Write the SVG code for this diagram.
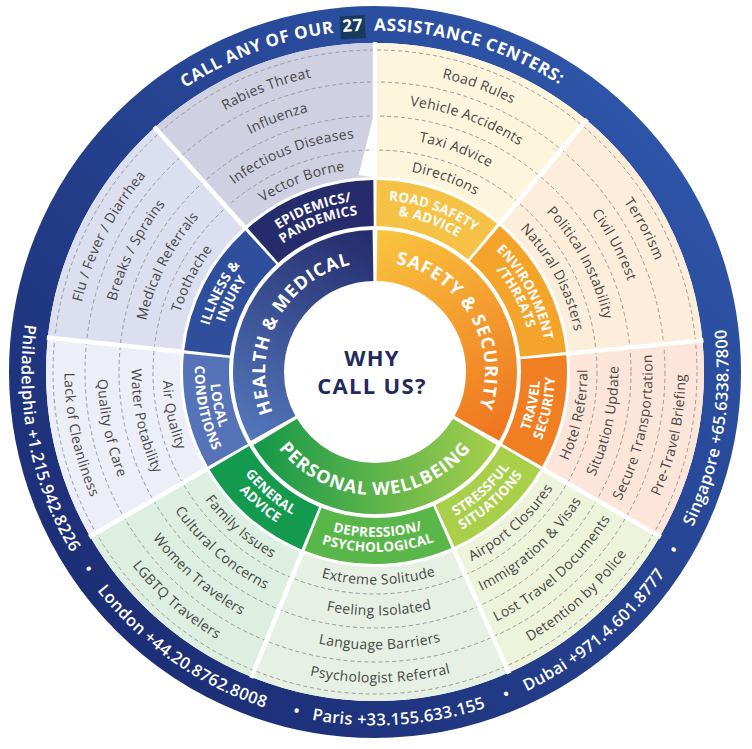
<svg xmlns="http://www.w3.org/2000/svg" width="752" height="749" viewBox="0 0 752 749">
<style>
text{font-family:"Open Sans","Liberation Sans",sans-serif}
.item{font-size:14px;fill:#474747;text-anchor:middle;letter-spacing:0.3px}
.sub{font-size:13.5px;font-weight:700;fill:#ffffff;text-anchor:middle;letter-spacing:0.2px}
.main{font-size:18px;font-weight:700;fill:#ffffff;text-anchor:middle;letter-spacing:1px}
.title{font-size:17px;font-weight:700;fill:#ffffff;text-anchor:middle;letter-spacing:0.6px}
.phone{font-size:16.5px;font-weight:600;fill:#ffffff;text-anchor:middle;letter-spacing:0.3px}
.center{font-size:22px;font-weight:700;fill:#1f2a5e;text-anchor:middle;letter-spacing:1.3px}
.mainSeg{fill:none;stroke-width:51}
.subSeg{fill:none;stroke-width:46}
.itemSeg{fill:none;stroke-width:134}
.dash{fill:none;stroke:#9b9b9b;stroke-width:1;stroke-dasharray:4 3}
.sep{stroke:#ffffff;stroke-width:4.5}
</style>
<defs>
<linearGradient id="gRing" gradientUnits="userSpaceOnUse" x1="-300" y1="300" x2="300" y2="-300">
<stop offset="0" stop-color="#1b2b72"/><stop offset="1" stop-color="#2f57ab"/>
</linearGradient>
<linearGradient id="gHealth" gradientUnits="userSpaceOnUse" x1="0" y1="-140" x2="-120" y2="70">
<stop offset="0" stop-color="#242b6b"/><stop offset="1" stop-color="#5377bb"/>
</linearGradient>
<linearGradient id="gSafety" gradientUnits="userSpaceOnUse" x1="0" y1="-140" x2="120" y2="70">
<stop offset="0" stop-color="#f9c53e"/><stop offset="1" stop-color="#ef7420"/>
</linearGradient>
<linearGradient id="gPersonal" gradientUnits="userSpaceOnUse" x1="-125" y1="0" x2="125" y2="0">
<stop offset="0" stop-color="#119649"/><stop offset="1" stop-color="#a8d04c"/>
</linearGradient>
<path id="cw341" d="M-340.2,-29.77 A341.5 341.5 0 0 1 340.2,-29.77"/>
<path id="cw110" d="M-109.58,-9.59 A110 110 0 0 1 109.58,-9.59"/>
<path id="cw172" d="M-171.35,-14.99 A172 172 0 0 1 171.35,-14.99"/>
<path id="cw158" d="M-157.4,-13.77 A158 158 0 0 1 157.4,-13.77"/>
<path id="cw203" d="M-202.73,-17.74 A203.5 203.5 0 0 1 202.73,-17.74"/>
<path id="cw234" d="M-233.61,-20.44 A234.5 234.5 0 0 1 233.61,-20.44"/>
<path id="cw268" d="M-267.48,-23.4 A268.5 268.5 0 0 1 267.48,-23.4"/>
<path id="cw301" d="M-300.35,-26.28 A301.5 301.5 0 0 1 300.35,-26.28"/>
<path id="ccw353" d="M-352.15,30.81 A353.5 353.5 0 0 0 352.15,30.81"/>
<path id="ccw123" d="M-122.53,10.72 A123 123 0 0 0 122.53,10.72"/>
<path id="ccw165" d="M-164.37,14.38 A165 165 0 0 0 164.37,14.38"/>
<path id="ccw180" d="M-179.31,15.69 A180 180 0 0 0 179.31,15.69"/>
<path id="ccw212" d="M-211.69,18.52 A212.5 212.5 0 0 0 211.69,18.52"/>
<path id="ccw243" d="M-242.57,21.22 A243.5 243.5 0 0 0 242.57,21.22"/>
<path id="ccw277" d="M-276.44,24.19 A277.5 277.5 0 0 0 276.44,24.19"/>
<path id="ccw310" d="M-309.32,27.06 A310.5 310.5 0 0 0 309.32,27.06"/>
</defs>
<rect width="752" height="749" fill="#ffffff"/>
<g transform="translate(375,372)">
<g id="outer-ring">
<circle r="347.5" fill="none" stroke="url(#gRing)" stroke-width="37"/>
<g transform="rotate(356.3)"><rect x="-12.5" y="-357" width="25" height="23" fill="#173b5e"/></g>
<text class="title" transform="rotate(339.7)"><textPath href="#cw341" startOffset="50%">CALL ANY OF OUR</textPath></text>
<text class="title" transform="rotate(356.3)"><textPath href="#cw341" startOffset="50%">27</textPath></text>
<text class="title" transform="rotate(16.3)"><textPath href="#cw341" startOffset="50%">ASSISTANCE CENTERS:</textPath></text>
<text class="phone" transform="rotate(78.5)"><textPath href="#ccw353" startOffset="50%">Philadelphia +1.215.942.8226</textPath></text>
<text class="phone" transform="rotate(55.5)"><textPath href="#ccw353" startOffset="50%">•</textPath></text>
<text class="phone" transform="rotate(35)"><textPath href="#ccw353" startOffset="50%">London +44.20.8762.8008</textPath></text>
<text class="phone" transform="rotate(13)"><textPath href="#ccw353" startOffset="50%">•</textPath></text>
<text class="phone" transform="rotate(-4)"><textPath href="#ccw353" startOffset="50%">Paris +33.155.633.155</textPath></text>
<text class="phone" transform="rotate(-22.2)"><textPath href="#ccw353" startOffset="50%">•</textPath></text>
<text class="phone" transform="rotate(-40.3)"><textPath href="#ccw353" startOffset="50%">Dubai +971.4.601.8777</textPath></text>
<text class="phone" transform="rotate(-59.3)"><textPath href="#ccw353" startOffset="50%">•</textPath></text>
<text class="phone" transform="rotate(-80.5)"><textPath href="#ccw353" startOffset="50%">Singapore +65.6338.7800</textPath></text>
</g>

<g id="items-epidemics">
<circle class="itemSeg" r="262" pathLength="360" stroke="#cfd0e2" stroke-dasharray="42 318" stroke-dashoffset="-228"/>
</g>
<g id="items-illness">
<circle class="itemSeg" r="262" pathLength="360" stroke="#dcdff0" stroke-dasharray="42 318" stroke-dashoffset="-186"/>
</g>
<g id="items-local">
<circle class="itemSeg" r="262" pathLength="360" stroke="#edeff8" stroke-dasharray="36 324" stroke-dashoffset="-150"/>
</g>
<g id="items-road">
<circle class="itemSeg" r="262" pathLength="360" stroke="#fdf6dc" stroke-dasharray="40 320" stroke-dashoffset="-270"/>
</g>
<g id="items-environment">
<circle class="itemSeg" r="262" pathLength="360" stroke="#fdeedb" stroke-dasharray="44.5 315.5" stroke-dashoffset="-310"/>
</g>
<g id="items-travel">
<circle class="itemSeg" r="262" pathLength="360" stroke="#fde6d9" stroke-dasharray="35.5 324.5" stroke-dashoffset="-354.5"/>
</g>
<g id="items-stressful">
<circle class="itemSeg" r="262" pathLength="360" stroke="#eef4dc" stroke-dasharray="36 324" stroke-dashoffset="-30"/>
</g>
<g id="items-depression">
<circle class="itemSeg" r="262" pathLength="360" stroke="#e6f1e3" stroke-dasharray="46 314" stroke-dashoffset="-66"/>
</g>
<g id="items-general">
<circle class="itemSeg" r="262" pathLength="360" stroke="#ddefe0" stroke-dasharray="38 322" stroke-dashoffset="-112"/>
</g>

<g id="item-dividers">
<circle class="dash" r="222"/>
<circle class="dash" r="256"/>
<circle class="dash" r="290"/>
<circle class="dash" r="322"/>
</g>

<g id="separators">
<line class="sep" x1="88" y1="0" x2="330" y2="0" transform="rotate(270)"/>
<line class="sep" x1="88" y1="0" x2="330" y2="0" transform="rotate(30)"/>
<line class="sep" x1="88" y1="0" x2="330" y2="0" transform="rotate(150)"/>
<line class="sep" x1="144" y1="0" x2="330" y2="0" transform="rotate(186)"/>
<line class="sep" x1="144" y1="0" x2="330" y2="0" transform="rotate(228)"/>
<line class="sep" x1="144" y1="0" x2="330" y2="0" transform="rotate(310)"/>
<line class="sep" x1="144" y1="0" x2="330" y2="0" transform="rotate(354.5)"/>
<line class="sep" x1="144" y1="0" x2="330" y2="0" transform="rotate(66)"/>
<line class="sep" x1="144" y1="0" x2="330" y2="0" transform="rotate(112)"/>
</g>

<g id="main-health">
<circle class="mainSeg" r="116.5" pathLength="360" stroke="url(#gHealth)" stroke-dasharray="118 242" stroke-dashoffset="-151"/>
<text class="main" transform="rotate(298)"><textPath href="#cw110" startOffset="50%">HEALTH &amp; MEDICAL</textPath></text>
</g>
<g id="main-safety">
<circle class="mainSeg" r="116.5" pathLength="360" stroke="url(#gSafety)" stroke-dasharray="118 242" stroke-dashoffset="-271"/>
<text class="main" transform="rotate(60)"><textPath href="#cw110" startOffset="50%">SAFETY &amp; SECURITY</textPath></text>
</g>
<g id="main-personal">
<circle class="mainSeg" r="116.5" pathLength="360" stroke="url(#gPersonal)" stroke-dasharray="118 242" stroke-dashoffset="-31"/>
<text class="main" transform="rotate(0)"><textPath href="#ccw123" startOffset="50%">PERSONAL WELLBEING</textPath></text>
</g>

<g id="sub-epidemics">
<circle class="subSeg" r="169" pathLength="360" stroke="#262b6b" stroke-dasharray="41 319" stroke-dashoffset="-228.5"/>
<text class="sub" transform="rotate(339)"><textPath href="#cw172" startOffset="50%">EPIDEMICS/</textPath></text>
<text class="sub" transform="rotate(339)"><textPath href="#cw158" startOffset="50%">PANDEMICS</textPath></text>
</g>
<g id="sub-illness">
<circle class="subSeg" r="169" pathLength="360" stroke="#2f4f9d" stroke-dasharray="41 319" stroke-dashoffset="-186.5"/>
<text class="sub" transform="rotate(297)"><textPath href="#cw172" startOffset="50%">ILLNESS &amp;</textPath></text>
<text class="sub" transform="rotate(297)"><textPath href="#cw158" startOffset="50%">INJURY</textPath></text>
</g>
<g id="sub-local">
<circle class="subSeg" r="169" pathLength="360" stroke="#5673b7" stroke-dasharray="35 325" stroke-dashoffset="-150.5"/>
<text class="sub" transform="rotate(78)"><textPath href="#ccw165" startOffset="50%">LOCAL</textPath></text>
<text class="sub" transform="rotate(78)"><textPath href="#ccw180" startOffset="50%">CONDITIONS</textPath></text>
</g>
<g id="sub-road">
<circle class="subSeg" r="169" pathLength="360" stroke="#f6c245" stroke-dasharray="39 321" stroke-dashoffset="-270.5"/>
<text class="sub" transform="rotate(20)"><textPath href="#cw172" startOffset="50%">ROAD SAFETY</textPath></text>
<text class="sub" transform="rotate(20)"><textPath href="#cw158" startOffset="50%">&amp; ADVICE</textPath></text>
</g>
<g id="sub-environment">
<circle class="subSeg" r="169" pathLength="360" stroke="#f5a42b" stroke-dasharray="43.5 316.5" stroke-dashoffset="-310.5"/>
<text class="sub" transform="rotate(62)"><textPath href="#cw172" startOffset="50%">ENVIRONMENT</textPath></text>
<text class="sub" transform="rotate(62)"><textPath href="#cw158" startOffset="50%">/THREATS</textPath></text>
</g>
<g id="sub-travel">
<circle class="subSeg" r="169" pathLength="360" stroke="#ef7f22" stroke-dasharray="34.5 325.5" stroke-dashoffset="-355"/>
<text class="sub" transform="rotate(-78)"><textPath href="#ccw165" startOffset="50%">TRAVEL</textPath></text>
<text class="sub" transform="rotate(-78)"><textPath href="#ccw180" startOffset="50%">SECURITY</textPath></text>
</g>
<g id="sub-stressful">
<circle class="subSeg" r="169" pathLength="360" stroke="#a9cf4b" stroke-dasharray="35 325" stroke-dashoffset="-30.5"/>
<text class="sub" transform="rotate(-42)"><textPath href="#ccw165" startOffset="50%">STRESSFUL</textPath></text>
<text class="sub" transform="rotate(-42)"><textPath href="#ccw180" startOffset="50%">SITUATIONS</textPath></text>
</g>
<g id="sub-depression">
<circle class="subSeg" r="169" pathLength="360" stroke="#59b749" stroke-dasharray="45 315" stroke-dashoffset="-66.5"/>
<text class="sub" transform="rotate(-1)"><textPath href="#ccw165" startOffset="50%">DEPRESSION/</textPath></text>
<text class="sub" transform="rotate(-1)"><textPath href="#ccw180" startOffset="50%">PSYCHOLOGICAL</textPath></text>
</g>
<g id="sub-general">
<circle class="subSeg" r="169" pathLength="360" stroke="#149a4f" stroke-dasharray="37 323" stroke-dashoffset="-112.5"/>
<text class="sub" transform="rotate(41)"><textPath href="#ccw165" startOffset="50%">GENERAL</textPath></text>
<text class="sub" transform="rotate(41)"><textPath href="#ccw180" startOffset="50%">ADVICE</textPath></text>
</g>

<g id="texts-epidemics" class="item">
<text transform="rotate(339)"><textPath href="#cw301" startOffset="50%">Rabies Threat</textPath></text>
<text transform="rotate(339)"><textPath href="#cw268" startOffset="50%">Influenza</textPath></text>
<text transform="rotate(339)"><textPath href="#cw234" startOffset="50%">Infectious Diseases</textPath></text>
<text transform="rotate(339)"><textPath href="#cw203" startOffset="50%">Vector Borne</textPath></text>
</g>
<g id="texts-road" class="item">
<text transform="rotate(20)"><textPath href="#cw301" startOffset="50%">Road Rules</textPath></text>
<text transform="rotate(20)"><textPath href="#cw268" startOffset="50%">Vehicle Accidents</textPath></text>
<text transform="rotate(20)"><textPath href="#cw234" startOffset="50%">Taxi Advice</textPath></text>
<text transform="rotate(20)"><textPath href="#cw203" startOffset="50%">Directions</textPath></text>
</g>
<g id="texts-environment" class="item">
<text transform="rotate(62)"><textPath href="#cw301" startOffset="50%">Terrorism</textPath></text>
<text transform="rotate(62)"><textPath href="#cw268" startOffset="50%">Civil Unrest</textPath></text>
<text transform="rotate(62)"><textPath href="#cw234" startOffset="50%">Political Instability</textPath></text>
<text transform="rotate(62)"><textPath href="#cw203" startOffset="50%">Natural Disasters</textPath></text>
</g>
<g id="texts-illness" class="item">
<text transform="rotate(297)"><textPath href="#cw301" startOffset="50%">Flu / Fever / Diarrhea</textPath></text>
<text transform="rotate(297)"><textPath href="#cw268" startOffset="50%">Breaks / Sprains</textPath></text>
<text transform="rotate(297)"><textPath href="#cw234" startOffset="50%">Medical Referrals</textPath></text>
<text transform="rotate(297)"><textPath href="#cw203" startOffset="50%">Toothache</textPath></text>
</g>
<g id="texts-travel" class="item">
<text transform="rotate(-78)"><textPath href="#ccw310" startOffset="50%">Pre-Travel Briefing</textPath></text>
<text transform="rotate(-78)"><textPath href="#ccw277" startOffset="50%">Secure Transportation</textPath></text>
<text transform="rotate(-78)"><textPath href="#ccw243" startOffset="50%">Situation Update</textPath></text>
<text transform="rotate(-78)"><textPath href="#ccw212" startOffset="50%">Hotel Referral</textPath></text>
</g>
<g id="texts-stressful" class="item">
<text transform="rotate(-42)"><textPath href="#ccw310" startOffset="50%">Detention by Police</textPath></text>
<text transform="rotate(-42)"><textPath href="#ccw277" startOffset="50%">Lost Travel Documents</textPath></text>
<text transform="rotate(-42)"><textPath href="#ccw243" startOffset="50%">Immigration &amp; Visas</textPath></text>
<text transform="rotate(-42)"><textPath href="#ccw212" startOffset="50%">Airport Closures</textPath></text>
</g>
<g id="texts-depression" class="item">
<text transform="rotate(-1)"><textPath href="#ccw310" startOffset="50%">Psychologist Referral</textPath></text>
<text transform="rotate(-1)"><textPath href="#ccw277" startOffset="50%">Language Barriers</textPath></text>
<text transform="rotate(-1)"><textPath href="#ccw243" startOffset="50%">Feeling Isolated</textPath></text>
<text transform="rotate(-1)"><textPath href="#ccw212" startOffset="50%">Extreme Solitude</textPath></text>
</g>
<g id="texts-general" class="item">
<text transform="rotate(41)"><textPath href="#ccw310" startOffset="50%">LGBTQ Travelers</textPath></text>
<text transform="rotate(41)"><textPath href="#ccw277" startOffset="50%">Women Travelers</textPath></text>
<text transform="rotate(41)"><textPath href="#ccw243" startOffset="50%">Cultural Concerns</textPath></text>
<text transform="rotate(41)"><textPath href="#ccw212" startOffset="50%">Family Issues</textPath></text>
</g>
<g id="texts-local" class="item">
<text transform="rotate(78)"><textPath href="#ccw310" startOffset="50%">Lack of Cleanliness</textPath></text>
<text transform="rotate(78)"><textPath href="#ccw277" startOffset="50%">Quality of Care</textPath></text>
<text transform="rotate(78)"><textPath href="#ccw243" startOffset="50%">Water Potability</textPath></text>
<text transform="rotate(78)"><textPath href="#ccw212" startOffset="50%">Air Quality</textPath></text>
</g>
</g>

<g id="center">
<text class="center" x="372" y="366">WHY</text>
<text class="center" x="372" y="394">CALL US?</text>
</g>
</svg>
